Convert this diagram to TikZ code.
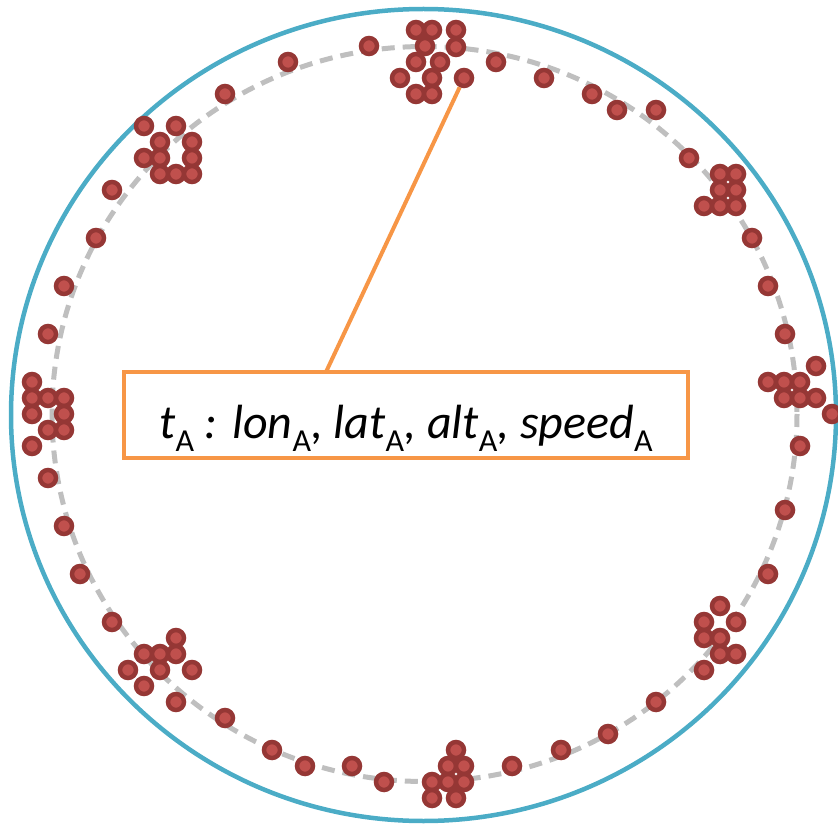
\documentclass[tikz,border=0pt]{standalone}
\usepackage{fontspec}
\setmainfont{Carlito}
\definecolor{ringblue}{HTML}{4BACC6}
\definecolor{boxorange}{HTML}{F79646}
\definecolor{dotfill}{HTML}{C0504D}
\definecolor{dotborder}{HTML}{953735}
\definecolor{dashgray}{HTML}{BFBFBF}
\newcommand{\subA}{\raisebox{-13pt}{\fontsize{32}{32}\selectfont\upshape A}}
\begin{document}
\begin{tikzpicture}[x=1pt,y=-1pt,
  outerring/.style={draw=ringblue, line width=4.5pt},
  dashring/.style={draw=dashgray, line width=5pt, dash pattern=on 13pt off 8pt},
  dot/.style={circle, draw=dotborder, fill=dotfill, line width=4.5pt, minimum size=16pt, inner sep=0pt},
  labelbox/.style={draw=boxorange, line width=4pt, fill=white, minimum width=564pt, minimum height=86pt, inner sep=0pt},
  labeltext/.style={anchor=base, inner sep=0pt, font=\fontsize{48}{48}\selectfont\itshape},
  conn/.style={draw=boxorange, line width=4pt}]
\useasboundingbox (0,0) rectangle (838,826);
\draw[outerring] (423.5,415) ellipse [x radius=412.5, y radius=406];
\draw[dashring] (424.5,414) ellipse [x radius=372.5, y radius=367.5];
\foreach \x/\y [count=\i] in {
  416/30,432/30,456/30,425/46,456/47,416/62,440/62,400/78,432/78,416/94,432/94,
  369/46,288/62,225/94,496/62,544/78,592/94,617/110,656/110,689/158,
  144/126,176/126,160/142,192/142,144/158,160/158,192/158,160/174,176/174,192/174,
  112/190,96/238,64/286,48/334,
  32/382,32/398,48/398,64/398,32/414,64/414,48/430,64/430,32/446,
  48/478,64/526,80/574,112/622,
  176/638,144/654,160/654,176/654,128/670,160/670,192/670,144/686,176/702,
  225/718,272/750,305/766,352/766,384/782,
  456/750,448/766,464/766,432/782,448/782,464/782,432/798,456/798,
  512/766,561/750,608/734,656/702,
  720/606,704/622,736/622,704/638,720/638,720/654,736/654,704/670,
  768/574,785/510,800/446,
  816/366,768/382,784/382,800/382,784/398,800/398,816/398,832/414,
  752/238,768/286,785/334,
  720/174,736/174,720/190,736/190,704/206,720/206,736/206}
  \node[dot] (d\i) at (\x,\y) {};
\node[dot] (target) at (464,78) {};
\node[labelbox] (lbl) at (406,415) {};
\node[labeltext] (lbltext) at (406,438) {t\subA\ : lon\subA, lat\subA, alt\subA, speed\subA};
\coordinate (lstart) at (326,372);
\draw[conn] (lstart) -- (target);
\end{tikzpicture}
\end{document}
